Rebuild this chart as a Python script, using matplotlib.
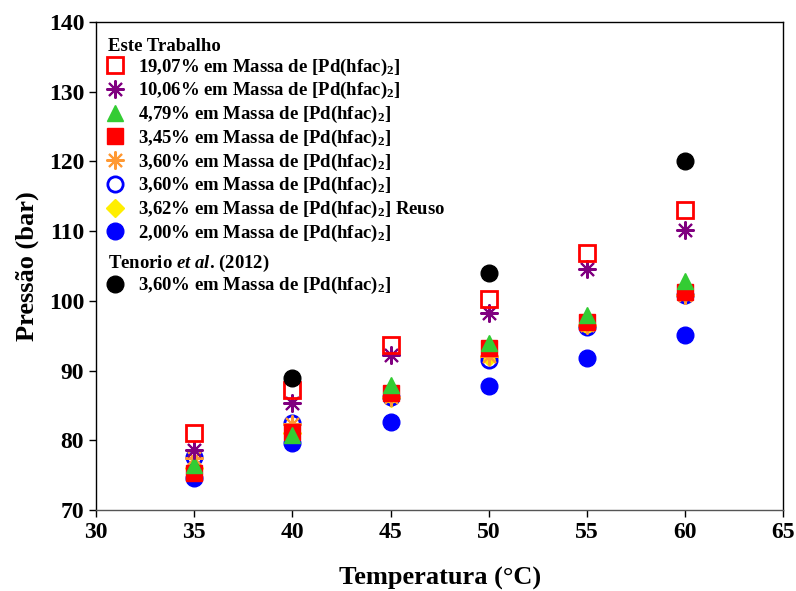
import matplotlib
matplotlib.use("Agg")
import matplotlib.pyplot as plt
from matplotlib.lines import Line2D

plt.rcParams['font.family'] = ['Liberation Serif', 'DejaVu Serif']
plt.rcParams['font.weight'] = 'bold'
plt.rcParams['mathtext.fontset'] = 'custom'
plt.rcParams['mathtext.rm'] = 'Liberation Serif:bold'
plt.rcParams['mathtext.bf'] = 'Liberation Serif:bold'
plt.rcParams['mathtext.it'] = 'Liberation Serif:bold:italic'

# Temperatura (°C)
temps = [35, 40, 45, 50, 55, 60]
temps_tenorio = [40, 50, 60]

# Pressao (bar) por serie
p_1907 = [81.0, 87.2, 93.7, 100.2, 106.8, 113.1]
p_1006 = [78.6, 85.3, 92.2, 98.2, 104.6, 110.1]
p_479 = [76.4, 80.8, 87.9, 93.9, 98.0, 102.8]
p_345 = [75.3, 81.2, 86.8, 93.2, 97.0, 101.3]
p_360a = [77.5, 82.3, 86.2, 92.1, 96.5, 100.8]
p_360b = [77.6, 82.5, 86.2, 91.5, 96.3, 100.8]
p_362 = [76.0, 81.0, 86.0, 92.0, 96.4, 100.8]
p_200 = [74.6, 79.6, 82.6, 87.8, 91.8, 95.1]
p_tenorio = [89.0, 104.0, 120.0]

sub = r'$_{2}$'
labels = [
    '19,07% em Massa de [Pd(hfac)' + sub + ']',
    '10,06% em Massa de [Pd(hfac)' + sub + ']',
    '4,79% em Massa de [Pd(hfac)' + sub + ']',
    '3,45% em Massa de [Pd(hfac)' + sub + ']',
    '3,60% em Massa de [Pd(hfac)' + sub + ']',
    '3,60% em Massa de [Pd(hfac)' + sub + ']',
    '3,62% em Massa de [Pd(hfac)' + sub + '] Reuso',
    '2,00% em Massa de [Pd(hfac)' + sub + ']',
]
label_tenorio = '3,60% em Massa de [Pd(hfac)' + sub + ']'
header_1 = 'Este Trabalho'
header_2 = r'Tenorio $\mathit{et\ al}$. (2012)'

fig, ax = plt.subplots(figsize=(7.96, 5.91), dpi=100)
fig.subplots_adjust(left=0.1206, right=0.984, top=0.9628, bottom=0.137)

series = [
    (p_1907, dict(marker='s', ms=11, mfc='none', mec='#FF0000', mew=2)),
    (p_1006, dict(marker=(8, 2, 0), ms=13, mec='#800080', mew=1.5)),
    (p_479, dict(marker='^', ms=12, mfc='#33CC33', mec='#33CC33')),
    (p_345, dict(marker='s', ms=11, mfc='#FF0000', mec='#FF0000')),
    (p_360a, dict(marker=(8, 2, 0), ms=13, mec='#FF9933', mew=1.5)),
    (p_360b, dict(marker='o', ms=11, mfc='none', mec='#0000FF', mew=2)),
    (p_362, dict(marker='D', ms=9, mfc='#FFEE00', mec='#FFEE00')),
    (p_200, dict(marker='o', ms=12, mfc='#0000FF', mec='#0000FF')),
]

handles = []
n = len(series)
for i, (vals, style) in enumerate(series):
    h, = ax.plot(temps, vals, linestyle='none', zorder=10 + n - i, **style)
    handles.append(h)
ht, = ax.plot(temps_tenorio, p_tenorio, linestyle='none', marker='o', ms=12,
              mfc='black', mec='black', zorder=30)

# header rows: keep a slot in each legend, then redraw the text flush left
blank = Line2D([], [], linestyle='none')
leg_kw = dict(loc='upper left', frameon=False, fontsize=13.5, handlelength=1.2,
              handletextpad=0.6, labelspacing=0.14, borderaxespad=0, borderpad=0)
leg1 = ax.legend([blank] + handles, [header_1 + sub] + labels,
                 bbox_to_anchor=(0.012, 0.975), **leg_kw)
ax.add_artist(leg1)
leg2 = ax.legend([blank, ht], [header_2 + sub, label_tenorio],
                 bbox_to_anchor=(0.012, 0.530), **leg_kw)

fig.canvas.draw()
renderer = fig.canvas.get_renderer()
ax_bb = ax.get_window_extent(renderer)
for leg, htxt in [(leg1, header_1), (leg2, header_2)]:
    t0 = leg.get_texts()[0]
    bb = t0.get_window_extent(renderer)
    t0.set_visible(False)
    fig.text((ax_bb.x0 + 12) / fig.bbox.width, (bb.y0 + bb.height * 0.5 - 2) / fig.bbox.height,
             htxt, fontsize=13.5, fontweight='bold', va='center', ha='left')

ax.set_xlim(30, 65)
ax.set_ylim(70, 140)
ax.set_xticks(range(30, 66, 5))
ax.set_yticks(range(70, 141, 10))
ax.tick_params(direction='out', length=5, width=1, labelsize=17)
for lab in ax.get_xticklabels() + ax.get_yticklabels():
    lab.set_fontweight('bold')
for s in ax.spines.values():
    s.set_linewidth(1)
ax.spines['bottom'].set_color('#555555')

ax.set_xlabel('Temperatura (°C)', fontsize=19, fontweight='bold', labelpad=17)
ax.set_ylabel('Pressão (bar)', fontsize=19, fontweight='bold', labelpad=7)

fig.savefig('out.png', dpi=100)
